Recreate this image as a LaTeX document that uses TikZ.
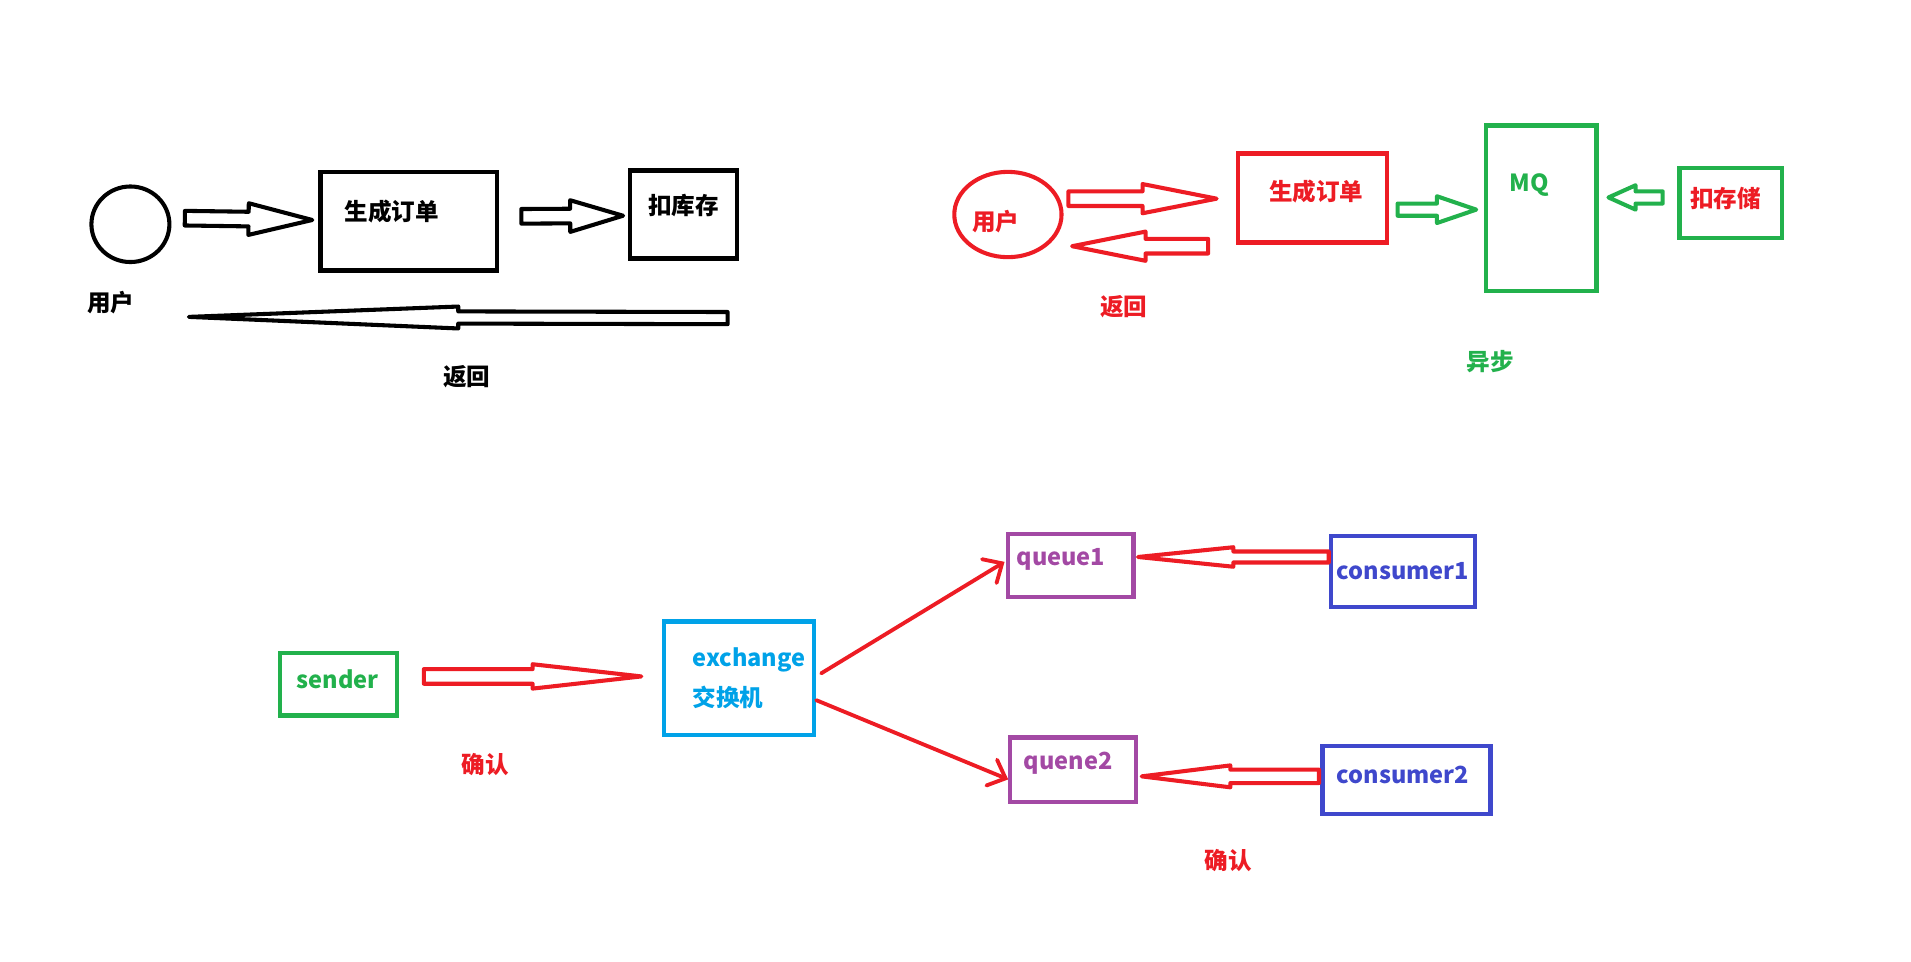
\documentclass[tikz,border=0pt]{standalone}
\usepackage{fontspec}
\setmainfont{Noto Sans CJK SC}
\usetikzlibrary{positioning, calc, shapes.geometric, arrows.meta}

\definecolor{paintred}{RGB}{237,28,36}
\definecolor{paintgreen}{RGB}{34,177,76}
\definecolor{paintcyan}{RGB}{0,162,232}
\definecolor{paintpurple}{RGB}{163,73,164}
\definecolor{paintblue}{RGB}{63,72,204}

% [colour]{from}{to}{shaft half width}{head half width}{head base}
\newcommand{\hollowarrow}[6][black]{%
  \coordinate (ha-s) at #2;
  \coordinate (ha-e) at #3;
  \coordinate (ha-b) at ($(ha-s)!#6!(ha-e)$);
  \draw[hollow, draw=#1] ($(ha-s)!#4!90:(ha-e)$) -- ($(ha-b)!#4!90:(ha-e)$) -- ($(ha-b)!#5!90:(ha-e)$) -- (ha-e)
    -- ($(ha-b)!#5!-90:(ha-e)$) -- ($(ha-b)!#4!-90:(ha-e)$) -- ($(ha-s)!#4!-90:(ha-e)$) -- cycle;
}

\begin{document}
\begin{tikzpicture}[
		x=0.02cm, y=-0.02cm,
		txt/.style={font=\bfseries\fontsize{11}{13}\selectfont, inner sep=0pt},
		box/.style={rectangle, draw=#1, text=#1, line width=2pt, inner sep=0pt, font=\bfseries\fontsize{11}{13}\selectfont},
		sz/.style 2 args={minimum width=#1*0.02cm, minimum height=#2*0.02cm},
		hollow/.style={line width=1.9pt, line join=round, fill=white},
		ray/.style={paintred, line width=1.8pt, line cap=round, -{Straight Barb[length=7pt, width=13pt, line cap=round]}}
		]
		\useasboundingbox (0,0) rectangle (1568,789);
		
		% Nodes
		\node (user1) [ellipse, draw, line width=1.9pt, sz={64}{62}] at (107,184) {};
		\node (user1txt) [txt] at (91,248) {用户};
		\node (order1) [box=black, sz={145}{81}, label={[txt, shift={(-14,-8)}]center:生成订单}] at (335.5,181.5) {};
		\node (stock1) [box=black, sz={88}{72}, label={[txt, shift={(0,-7)}]center:扣库存}] at (561,176) {};
		\node (back1) [txt] at (383,309) {返回};
		
		\node (user2) [ellipse, draw=paintred, line width=1.9pt, sz={88}{70}, label={[txt, text=paintred, shift={(-10,6)}]center:用户}] at (827,176) {};
		\node (back2) [txt, text=paintred] at (922,252) {返回};
		\node (order2) [box=paintred, sz={122}{73}, label={[txt, text=paintred, shift={(3,-5)}]center:生成订单}] at (1077,162.5) {};
		\node (mq) [box=paintgreen, sz={91}{136}, label={[txt, text=paintgreen, shift={(-10,-19)}]center:MQ}] at (1264.5,171) {};
		\node (store) [box=paintgreen, sz={84}{57}, label={[txt, text=paintred, shift={(-4,-4)}]center:扣存储}] at (1420,166.5) {};
		\node (async) [txt, text=paintgreen] at (1223,297) {异步};
		
		\node (sender) [box=paintgreen, sz={96}{51}, label={[txt, text=paintgreen, shift={(-1,-4)}]center:sender}] at (278,561.5) {};
		\node (exch) [box=paintcyan, sz={123}{93}, label={[txt, text=paintcyan, align=left, font=\bfseries\fontsize{11}{18.7}\selectfont, shift={(8,0)}]center:exchange\\交换机}] at (606.5,556.5) {};
		\node (ack1) [txt, text=paintred] at (398,627) {确认};
		\node (q1) [box=paintpurple, sz={103}{52}, label={[txt, text=paintpurple, shift={(-8,-5)}]center:queue1}] at (878.5,464) {};
		\node (q2) [box=paintpurple, sz={103}{53}, label={[txt, text=paintpurple, shift={(-4,-5)}]center:quene2}] at (880.5,631.5) {};
		\node (c1) [box=paintblue, sz={118}{58}] at (1151,469) {consumer1};
		\node (c2) [box=paintblue, sz={138}{56}, label={[txt, text=paintblue, shift={(-3,-4)}]center:consumer2}] at (1154,640) {};
		\node (ack2) [txt, text=paintred] at (1008,706) {确认};
		
		% Arrows
		\hollowarrow{($(user1.east)+(11,-5)$)}{($(order1.west)+(-5,-1)$)}{0.12cm}{0.26cm}{0.5}
		\hollowarrow{($(order1.east)+(18,-4)$)}{($(stock1.west)+(-4,1)$)}{0.12cm}{0.26cm}{0.48}
		\coordinate (back1a) at (597,261);
		\coordinate (back1b) at (155,260);
		\hollowarrow{(back1a)}{(back1b)}{0.1cm}{0.18cm}{0.5}
		
		\hollowarrow[paintred]{($(user2.east)+(4,-13)$)}{($(order2.west)+(-16,0.5)$)}{0.12cm}{0.24cm}{0.5}
		\hollowarrow[paintred]{($(order2.west)+(-23,39.5)$)}{($(user2.east)+(7,26)$)}{0.12cm}{0.24cm}{0.46}
		\hollowarrow[paintgreen]{($(order2.east)+(7,9.5)$)}{($(mq.west)+(-6,1)$)}{0.1cm}{0.22cm}{0.5}
		\hollowarrow[paintgreen]{($(store.west)+(-12,-4.5)$)}{($(mq.east)+(8,-9)$)}{0.1cm}{0.2cm}{0.5}
		
		\hollowarrow[paintred]{($(sender.east)+(20,-6.5)$)}{($(exch.west)+(-17,-1.5)$)}{0.12cm}{0.2cm}{0.5}
		\draw[ray] ($(exch.east)+(4,-4)$) -- ($(q1.west)+(-1,-3)$);
		\draw[ray] ($(exch.east)+(0,18)$) -- ($(q2.west)+(0,8)$);
		\hollowarrow[paintred]{($(c1.west)+(0,-12)$)}{($(q1.east)+(2,-7)$)}{0.09cm}{0.16cm}{0.5}
		\hollowarrow[paintred]{($(c2.west)+(-1,-3)$)}{($(q2.east)+(3,5.5)$)}{0.11cm}{0.18cm}{0.5}
		
	\end{tikzpicture}
\end{document}
